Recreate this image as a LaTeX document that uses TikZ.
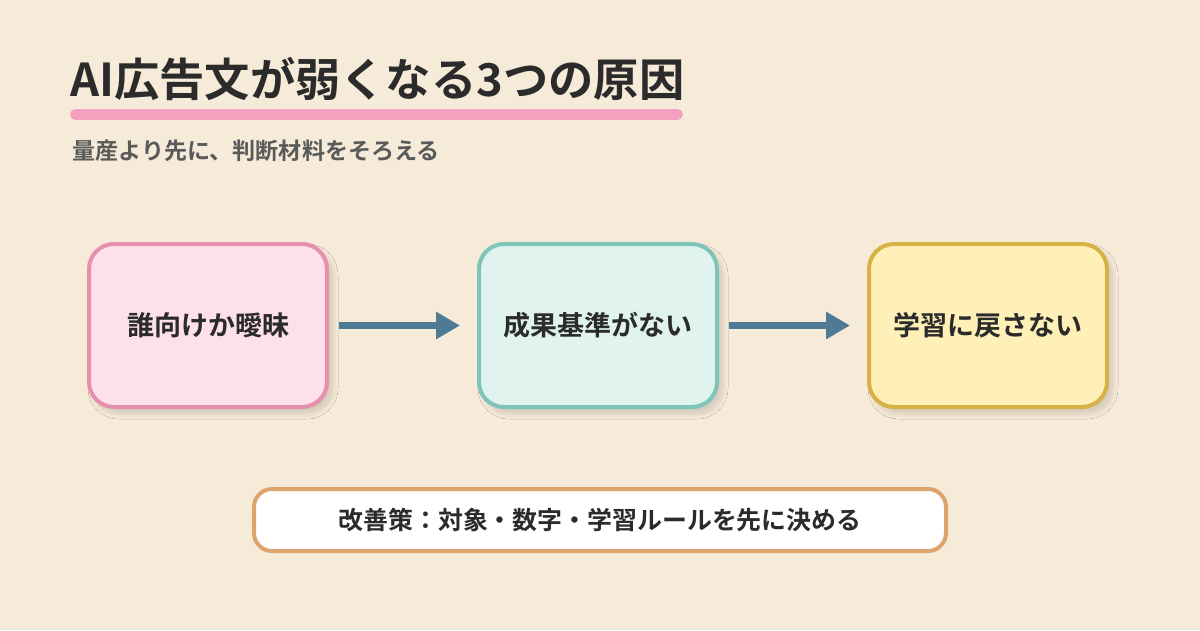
\documentclass[tikz,border=0pt]{standalone}
\usepackage{fontspec}
\setmainfont{Noto Sans CJK JP Bold}
\usetikzlibrary{arrows.meta,shadows.blur}
\definecolor{bgc}{HTML}{F6EAD8}
\definecolor{titlec}{HTML}{2B2B2B}
\definecolor{subc}{HTML}{5A5A5A}
\definecolor{pinkbar}{HTML}{F4A0BE}
\definecolor{pinkfill}{HTML}{FDE0EA}
\definecolor{pinkline}{HTML}{E391AE}
\definecolor{tealfill}{HTML}{E0F3EF}
\definecolor{tealline}{HTML}{7EC4B8}
\definecolor{yelfill}{HTML}{FFF0B8}
\definecolor{yelline}{HTML}{D6B244}
\definecolor{arrc}{HTML}{4E7A93}
\definecolor{orline}{HTML}{DCA46C}
\tikzset{
  card/.style={rounded corners=25pt, line width=4pt, minimum width=238pt, minimum height=163pt,
    inner sep=0pt, text=titlec, font=\fontsize{27}{31}\selectfont,
    blur shadow={shadow xshift=5pt, shadow yshift=-6pt, shadow blur steps=20, shadow opacity=16, shadow blur radius=6pt}},
  arr/.style={line width=7pt, draw=arrc, -{Triangle[length=24pt,width=26pt]}},
}
\begin{document}
\begin{tikzpicture}[x=1pt,y=-1pt]
\fill[bgc] (0,0) rectangle (1200,630);
\useasboundingbox (0,0) rectangle (1200,630);
\node[anchor=base west, inner sep=0pt, text=titlec, font=\fontsize{45.3}{52}\selectfont] (title) at (70,96) {AI広告文が弱くなる3つの原因};
\draw[pinkbar, line width=11pt, line cap=round] (75.5,114.5) -- (677.5,114.5);
\node[anchor=base west, inner sep=0pt, text=subc, font=\fontsize{23.1}{27}\selectfont] (sub) at (72,159) {量産より先に、判断材料をそろえる};
\node[card, fill=pinkfill, draw=pinkline] (b1) at (208,325.5) {\raisebox{-5pt}{誰向けか曖昧}};
\node[card, fill=tealfill, draw=tealline] (b2) at (598,325.5) {\raisebox{-5pt}{成果基準がない}};
\node[card, fill=yelfill, draw=yelline] (b3) at (988,325.5) {\raisebox{-5pt}{学習に戻さない}};
\draw[arr] ([xshift=10pt]b1.east) -- ([xshift=-17pt]b2.west);
\draw[arr] ([xshift=10pt]b2.east) -- ([xshift=-17pt]b3.west);
\node[rounded corners=18pt, line width=4pt, draw=orline, fill=white, minimum width=692pt, minimum height=62pt,
  inner sep=0pt, text=titlec, font=\fontsize{24.9}{29}\selectfont] (fix) at (600,520) {\raisebox{-4pt}{改善策：対象・数字・学習ルールを先に決める}};
\end{tikzpicture}
\end{document}
